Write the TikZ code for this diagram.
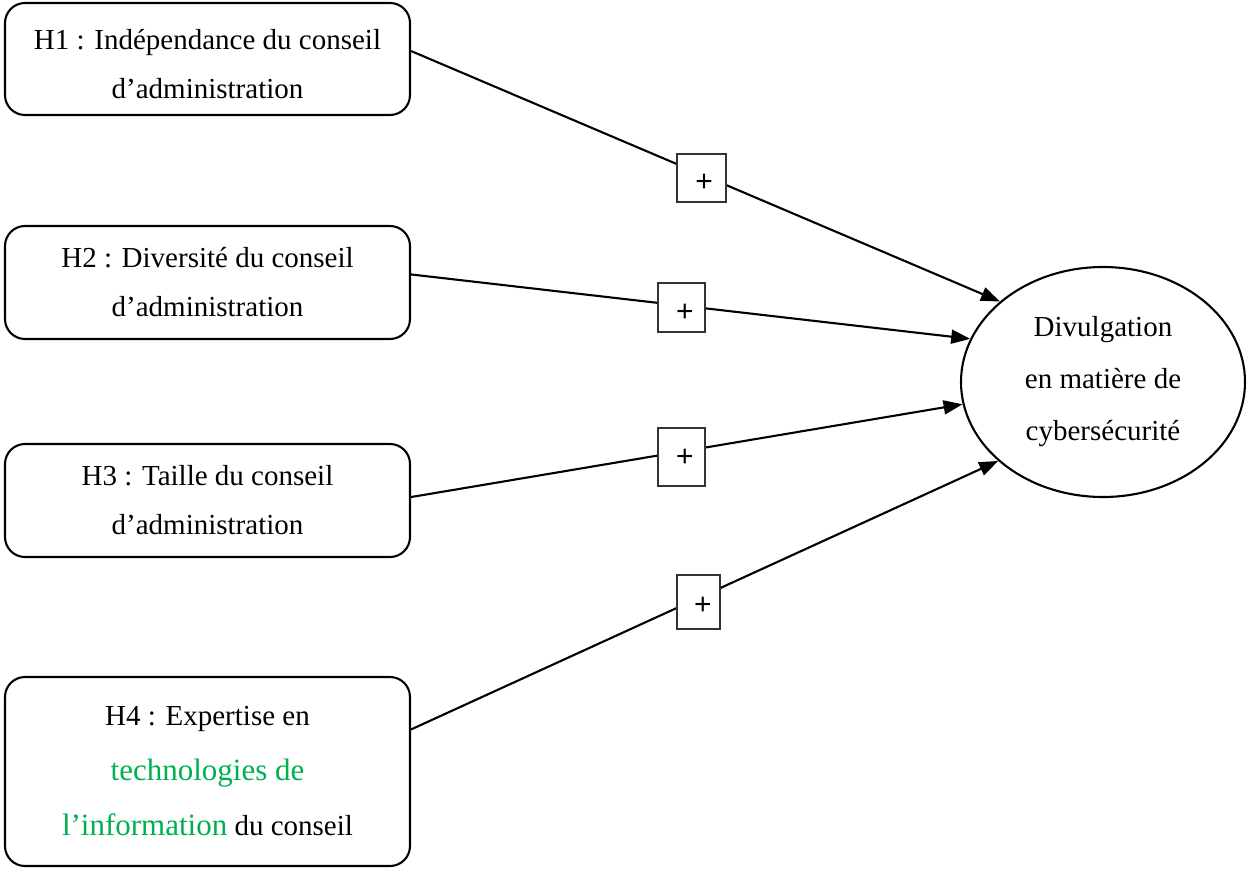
\documentclass[tikz,border=0pt]{standalone}
\usepackage{fontspec}
\setmainfont{Liberation Serif}
\newfontfamily\plusfont{Liberation Sans}
\usetikzlibrary{arrows.meta,shapes.geometric,calc}
\definecolor{itgreen}{RGB}{0,176,80}
\begin{document}
\begin{tikzpicture}[x=1pt,y=-1pt,
  hbox/.style={draw, line width=2.1pt, rounded corners=20pt, minimum width=405pt,
    align=center, inner sep=0pt, font=\fontsize{29}{49}\selectfont},
  target/.style={draw, ellipse, line width=2.1pt, minimum width=284pt, minimum height=230pt,
    inner sep=0pt, align=center, font=\fontsize{29}{52}\selectfont},
  plusbox/.style={draw=black!80, line width=1.2pt, fill=white, inner sep=0pt},
  plustext/.style={font=\plusfont\fontsize{30}{30}\selectfont},
  link/.style={line width=2.1pt, -{Triangle[length=19pt,width=14pt]}}
]
\useasboundingbox (0,0) rectangle (1247,869);

\node[hbox, minimum height=112pt] (h1) at (207.5,59)
  {\raisebox{-5pt}[\height][\depth]{\begin{tabular}{@{}c@{}}H1 : Indépendance du conseil\\d’administration\end{tabular}}};
\node[hbox, minimum height=113pt] (h2) at (207.5,282.5)
  {H2 : Diversité du conseil\\d’administration};
\node[hbox, minimum height=113pt] (h3) at (207.5,500.5)
  {H3 : Taille du conseil\\d’administration};
\node[hbox, minimum height=189pt, font=\fontsize{29}{55}\selectfont] (h4) at (207.5,771.5)
  {H4 : Expertise en\\{\color{itgreen}\fontsize{31}{55}\selectfont technologies de}\\{\color{itgreen}\fontsize{31}{55}\selectfont l’information} du conseil};

\node[target] (ell) at (1103,382) {Divulgation\\en matière de\\cybersécurité};

\coordinate (s1) at ($(h1.north east)!0.43!(h1.south east)$);
\coordinate (s2) at ($(h2.north east)!0.43!(h2.south east)$);
\coordinate (s3) at ($(h3.north east)!0.47!(h3.south east)$);
\coordinate (s4) at ($(h4.north east)!0.28!(h4.south east)$);

\draw[link] (s1) -- (ell.142.2);
\draw[link] (s2) -- (ell.162.7);
\draw[link] (s3) -- (ell.189.6);
\draw[link] (s4) -- (ell.217.1);

\node[plusbox, minimum width=49pt, minimum height=48pt,
  label={[plustext, shift={(2.5,5)}]center:+}] (p1) at (701.5,178) {};
\node[plusbox, minimum width=47pt, minimum height=49pt,
  label={[plustext, shift={(3.5,5.5)}]center:+}] (p2) at (681.5,307.5) {};
\node[plusbox, minimum width=47pt, minimum height=58pt,
  label={[plustext, shift={(3.5,1)}]center:+}] (p3) at (681.5,457) {};
\node[plusbox, minimum width=43pt, minimum height=54pt,
  label={[plustext, shift={(4.5,4)}]center:+}] (p4) at (698.5,602) {};
\end{tikzpicture}
\end{document}
